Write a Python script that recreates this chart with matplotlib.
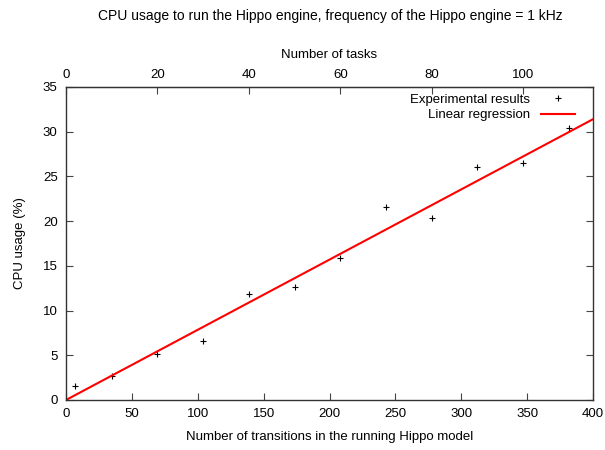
import numpy as np
import matplotlib.pyplot as plt

plt.rcParams['font.family'] = ['Liberation Sans', 'DejaVu Sans']

# data
tasks = [2, 10, 20, 30, 40, 50, 60, 70, 80, 90, 100, 110]
transitions_per_task = 3.47
cpu = [1.6, 2.7, 5.1, 6.6, 11.8, 12.6, 15.9, 21.6, 20.4, 26.0, 26.5, 30.4]
# regression line end points
reg_x = [0, 400]
reg_y = [0.0, 31.4]

transitions = [t * transitions_per_task for t in tasks]

fig = plt.figure(figsize=(6.05, 4.5), dpi=100)
ax = fig.add_axes([66/605, 1 - 400/450, (593-66)/605, (400-87)/450])

ax.plot(transitions, cpu, linestyle='none', marker='+', color='black',
        markersize=5, markeredgewidth=0.8, label='Experimental results')
ax.plot(reg_x, reg_y, color='red', linewidth=1.5, label='Linear regression')

ax.set_xlim(0, 400)
ax.set_ylim(0, 35)
ax.set_xticks(np.arange(0, 401, 50))
ax.set_yticks(np.arange(0, 36, 5))
ax.tick_params(direction='in', length=5, labelsize=9.5, color='#444444', pad=6,
               right=True, top=False)
for s in ax.spines.values():
    s.set_color('#333333')
    s.set_linewidth(1)

ax.set_xlabel('Number of transitions in the running Hippo model', fontsize=9.5, labelpad=8)
ax.set_ylabel('CPU usage (%)', fontsize=9.5, labelpad=12)

# secondary top axis (tasks)
ax2 = ax.secondary_xaxis('top', functions=(lambda x: x / transitions_per_task,
                                           lambda t: t * transitions_per_task))
ax2.set_xticks(np.arange(0, 101, 20))
ax2.tick_params(direction='in', length=5, labelsize=9.5, color='#444444', pad=4)
ax2.spines['top'].set_color('#333333')
ax2.set_xlabel('Number of tasks', fontsize=9.5, labelpad=8)

fig.suptitle('CPU usage to run the Hippo engine, frequency of the Hippo engine = 1 kHz',
             x=0.546, y=0.98, fontsize=10)

ax.legend(loc='upper right', frameon=False, markerfirst=False, fontsize=9.5,
          handlelength=2.6, borderaxespad=0.1, labelspacing=0.25,
          bbox_to_anchor=(0.978, 1.0))

fig.savefig('out.png', dpi=100)
